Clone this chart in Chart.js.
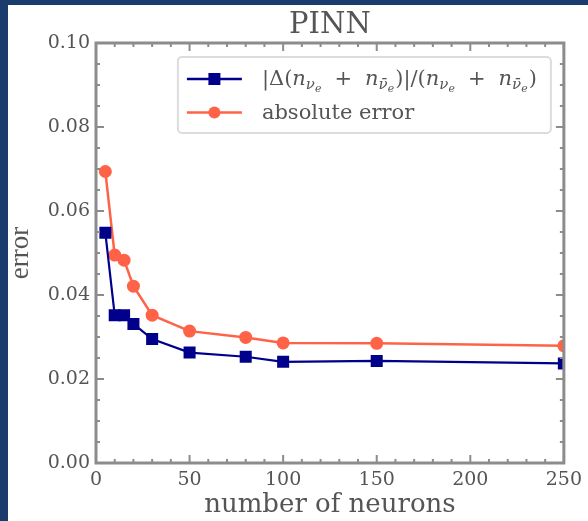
<!DOCTYPE html>
<html>
<head>
<meta charset="utf-8">
<script src="https://cdn.jsdelivr.net/npm/chart.js@4.4.1/dist/chart.umd.min.js"></script>
<style>
  html, body { margin: 0; padding: 0; background: #1a3c6c; }
  #wrap { position: absolute; left: 8px; top: 5px; width: 580px; height: 516px; background: #fff; }
</style>
</head>
<body>
<div id="wrap"><canvas id="errChart" width="580" height="516"></canvas></div>
<script>
// hidden layer sizes and the two error measures
const neurons = [5, 10, 15, 20, 30, 50, 80, 100, 150, 250];
const relDiff = [0.0548, 0.0352, 0.0352, 0.0331, 0.0295, 0.0263, 0.0253, 0.0241, 0.0243, 0.0237];
const absError = [0.0694, 0.0495, 0.0483, 0.0421, 0.0352, 0.0314, 0.0299, 0.0286, 0.0285, 0.0279];

const xTicks = [0, 50, 100, 150, 200, 250];
const yTicks = [0, 0.02, 0.04, 0.06, 0.08, 0.10];

const BLUE = '#00008b';
const RED = '#ff6347';
const TEXT = '#555';
const SERIF = '"DejaVu Serif", serif';

// |Δ(n_νe + n_ν̄e)| / (n_νe + n_ν̄e), drawn piece by piece
const nSub = bar => [
  { t: 'n', size: 21, it: true },
  { t: bar ? 'ν\u0304' : 'ν', size: 15, it: true, dy: 4 },
  { t: 'e', size: 11, it: true, dy: 7 }
];
const plus = [{ gap: 13 }, { t: '+', size: 21 }, { gap: 13 }];
const relLabel = [
  { t: '|Δ(', size: 21 }, ...nSub(false), ...plus, ...nSub(true),
  { gap: 1 }, { t: ')|/(', size: 21 }, ...nSub(false), ...plus, ...nSub(true),
  { gap: 1 }, { t: ')', size: 21 }
];
const absLabel = [{ t: 'absolute error', size: 21 }];

function drawRich(ctx, parts, x, y) {
  for (const p of parts) {
    if (p.gap) { x += p.gap; continue; }
    ctx.font = (p.it ? 'italic ' : '') + p.size + 'px ' + SERIF;
    ctx.fillText(p.t, x, y + (p.dy || 0));
    x += ctx.measureText(p.t).width;
  }
  return x;
}

function richWidth(ctx, parts) {
  let w = 0;
  for (const p of parts) {
    if (p.gap) { w += p.gap; continue; }
    ctx.font = (p.it ? 'italic ' : '') + p.size + 'px ' + SERIF;
    w += ctx.measureText(p.t).width;
  }
  return w;
}

// box around the plot with inward ticks on all four sides
const frame = {
  id: 'frame',
  afterDatasetsDraw(chart) {
    const { ctx, chartArea: a, scales: { x, y } } = chart;
    ctx.save();
    ctx.strokeStyle = '#8c8c8c';
    ctx.lineWidth = 2;
    ctx.beginPath();
    for (let i = 0; i <= 25; i++) {
      const px = x.getPixelForValue(i * 10);
      const len = i % 5 === 0 ? 8 : 4;
      ctx.moveTo(px, a.bottom); ctx.lineTo(px, a.bottom - len);
      ctx.moveTo(px, a.top); ctx.lineTo(px, a.top + len);
    }
    for (let i = 0; i <= 20; i++) {
      const py = y.getPixelForValue(i * 0.005);
      const len = i % 4 === 0 ? 8 : 4;
      ctx.moveTo(a.left, py); ctx.lineTo(a.left + len, py);
      ctx.moveTo(a.right, py); ctx.lineTo(a.right - len, py);
    }
    ctx.stroke();
    ctx.lineWidth = 3;
    ctx.strokeRect(a.left, a.top, a.right - a.left, a.bottom - a.top);
    ctx.restore();
  }
};

const plotTitle = {
  id: 'plotTitle',
  afterDraw(chart) {
    const { ctx, chartArea: a } = chart;
    ctx.save();
    ctx.font = '29px ' + SERIF;
    ctx.fillStyle = TEXT;
    ctx.textAlign = 'center';
    ctx.textBaseline = 'alphabetic';
    ctx.fillText('PINN', (a.left + a.right) / 2, 28);
    ctx.restore();
  }
};

const legendBox = {
  id: 'legendBox',
  afterDraw(chart) {
    const { ctx, chartArea: a } = chart;
    const rows = [
      { parts: relLabel, color: BLUE, shape: 'rect' },
      { parts: absLabel, color: RED, shape: 'circle' }
    ];
    const textW = Math.max(...rows.map(r => richWidth(ctx, r.parts)));
    const w = 9 + 55 + 20 + textW + 14;
    const h = 76;
    const right = a.right - 13;
    const left = right - w;
    const top = a.top + 14;
    ctx.save();
    ctx.fillStyle = 'rgba(255,255,255,0.85)';
    ctx.strokeStyle = '#dcdcdc';
    ctx.lineWidth = 2;
    ctx.beginPath();
    ctx.roundRect(left, top, w, h, 4);
    ctx.fill();
    ctx.stroke();
    rows.forEach((r, i) => {
      const cy = top + 22 + i * 33.5;
      ctx.strokeStyle = r.color;
      ctx.fillStyle = r.color;
      ctx.lineWidth = 2.5;
      ctx.beginPath();
      ctx.moveTo(left + 9, cy);
      ctx.lineTo(left + 64, cy);
      ctx.stroke();
      const mx = left + 36.5;
      ctx.beginPath();
      if (r.shape === 'rect') ctx.rect(mx - 6, cy - 6, 12, 12);
      else ctx.arc(mx, cy, 6, 0, Math.PI * 2);
      ctx.fill();
      ctx.fillStyle = TEXT;
      ctx.textBaseline = 'alphabetic';
      drawRich(ctx, r.parts, left + 84, cy + 6);
    });
    ctx.restore();
  }
};

const tickFont = { family: SERIF, size: 19 };

new Chart(document.getElementById('errChart'), {
  type: 'line',
  data: {
    datasets: [
      {
        label: '|Δ(n_νe + n_ν̄e)|/(n_νe + n_ν̄e)',
        data: neurons.map((n, i) => ({ x: n, y: relDiff[i] })),
        borderColor: BLUE,
        backgroundColor: BLUE,
        borderWidth: 2.2,
        pointStyle: 'rect',
        pointRadius: 8.5,
        pointBorderWidth: 0,
        clip: 0
      },
      {
        label: 'absolute error',
        data: neurons.map((n, i) => ({ x: n, y: absError[i] })),
        borderColor: RED,
        backgroundColor: RED,
        borderWidth: 2.5,
        pointStyle: 'circle',
        pointRadius: 6.5,
        pointBorderWidth: 0,
        clip: 0
      }
    ]
  },
  options: {
    responsive: false,
    animation: false,
    layout: { padding: { top: 38, right: 17, bottom: 0, left: 0 } },
    plugins: {
      legend: { display: false },
      title: { display: false },
      tooltip: { enabled: false }
    },
    scales: {
      x: {
        type: 'linear',
        min: 0,
        max: 250,
        grid: { display: false, drawTicks: false },
        border: { display: false },
        ticks: { font: tickFont, color: TEXT, padding: 6, maxRotation: 0 },
        afterBuildTicks: s => { s.ticks = xTicks.map(v => ({ value: v })); },
        title: {
          display: true,
          text: 'number of neurons',
          font: { family: SERIF, size: 26 },
          color: TEXT,
          padding: { top: 4, bottom: 0 }
        },
        afterFit: s => { s.height = 58; }
      },
      y: {
        type: 'linear',
        min: 0,
        max: 0.1,
        grid: { display: false, drawTicks: false },
        border: { display: false },
        ticks: { font: tickFont, color: TEXT, padding: 6, callback: v => v.toFixed(2) },
        afterBuildTicks: s => { s.ticks = yTicks.map(v => ({ value: v })); },
        title: {
          display: true,
          text: 'error',
          font: { family: '"Liberation Serif", serif', size: 27 },
          color: TEXT,
          padding: { top: -3, bottom: 0 }
        },
        afterFit: s => { s.width = 88; }
      }
    }
  },
  plugins: [frame, plotTitle, legendBox]
});
</script>
</body>
</html>
